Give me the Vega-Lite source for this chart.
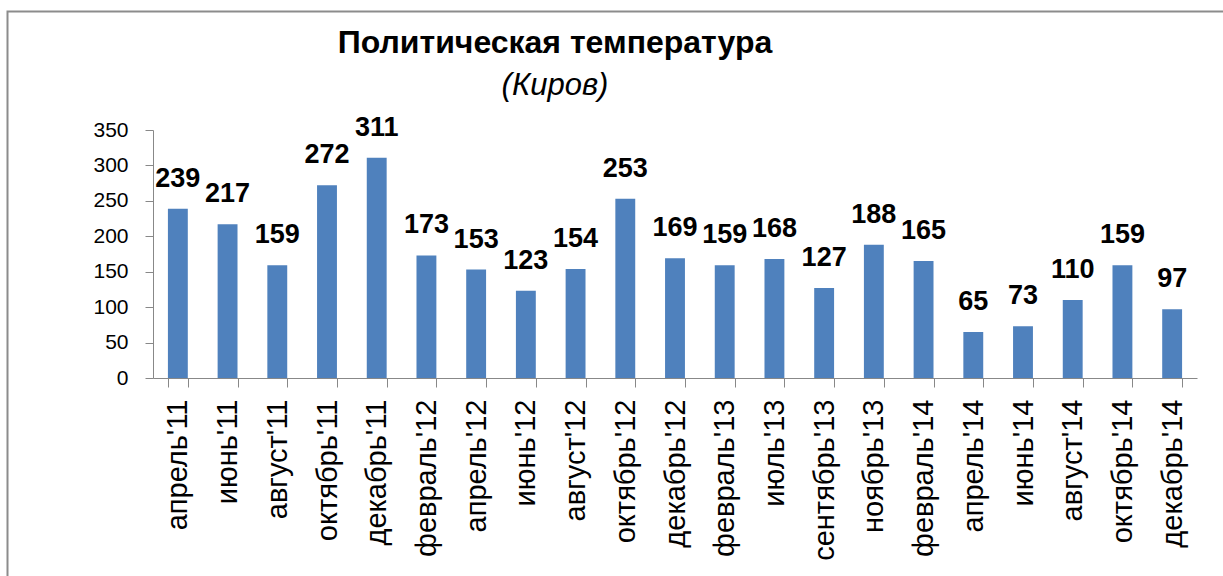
{
  "$schema": "https://vega.github.io/schema/vega-lite/v6.json",
  "width": 1044,
  "height": 248,
  "autosize": {"type": "none"},
  "padding": {"left": 153, "top": 130, "right": 26, "bottom": 198},
  "background": "white",
  "config": {"view": {"stroke": null}},
  "title": {
    "text": "Политическая температура",
    "subtitle": "(Киров)",
    "anchor": "middle",
    "frame": "group",
    "dx": -120,
    "offset": -91,
    "font": "Liberation Sans",
    "fontSize": 32,
    "fontWeight": "bold",
    "color": "black",
    "subtitleFont": "Liberation Sans",
    "subtitleFontSize": 31,
    "subtitleFontStyle": "italic",
    "subtitleColor": "black",
    "subtitlePadding": 11
  },
  "data": {
    "values": [
      {"month": "апрель'11", "value": 239},
      {"month": "июнь'11", "value": 217},
      {"month": "август'11", "value": 159},
      {"month": "октябрь'11", "value": 272},
      {"month": "декабрь'11", "value": 311},
      {"month": "февраль'12", "value": 173},
      {"month": "апрель'12", "value": 153},
      {"month": "июнь'12", "value": 123},
      {"month": "август'12", "value": 154},
      {"month": "октябрь'12", "value": 253},
      {"month": "декабрь'12", "value": 169},
      {"month": "февраль'13", "value": 159},
      {"month": "июль'13", "value": 168},
      {"month": "сентябрь'13", "value": 127},
      {"month": "ноябрь'13", "value": 188},
      {"month": "февраль'14", "value": 165},
      {"month": "апрель'14", "value": 65},
      {"month": "июнь'14", "value": 73},
      {"month": "август'14", "value": 110},
      {"month": "октябрь'14", "value": 159},
      {"month": "декабрь'14", "value": 97}
    ]
  },
  "encoding": {
    "x": {
      "field": "month",
      "type": "nominal",
      "sort": null,
      "scale": {"paddingInner": 0.6, "paddingOuter": 0.3},
      "axis": {
        "title": null,
        "labelAngle": -90,
        "labelFont": "Liberation Sans",
        "labelFontSize": 29,
        "labelColor": "black",
        "labelPadding": 12,
        "tickSize": 9,
        "tickBand": "extent",
        "tickColor": "#888888",
        "domainColor": "#888888",
        "labelOverlap": false
      }
    },
    "y": {
      "field": "value",
      "type": "quantitative",
      "scale": {"domain": [0, 350], "nice": false},
      "axis": {
        "title": null,
        "values": [0, 50, 100, 150, 200, 250, 300, 350],
        "grid": false,
        "labelFont": "Liberation Sans",
        "labelFontSize": 21,
        "labelColor": "black",
        "labelPadding": 17,
        "tickSize": 8,
        "tickColor": "#888888",
        "domainColor": "#888888"
      }
    }
  },
  "layer": [
    {"mark": {"type": "bar", "color": "#4F81BD"}},
    {
      "mark": {
        "type": "text",
        "dy": -30,
        "baseline": "middle",
        "font": "Liberation Sans",
        "fontSize": 27,
        "fontWeight": "bold",
        "color": "black"
      },
      "encoding": {"text": {"field": "value", "type": "quantitative"}}
    },
    {
      "data": {"values": [{}]},
      "mark": {"type": "rect", "fill": null, "stroke": "#8c8c8c", "strokeWidth": 2},
      "encoding": {
        "x": {"value": -145.5},
        "y": {"value": -118.5},
        "x2": {"value": 2000},
        "y2": {"value": 2000}
      }
    }
  ]
}
